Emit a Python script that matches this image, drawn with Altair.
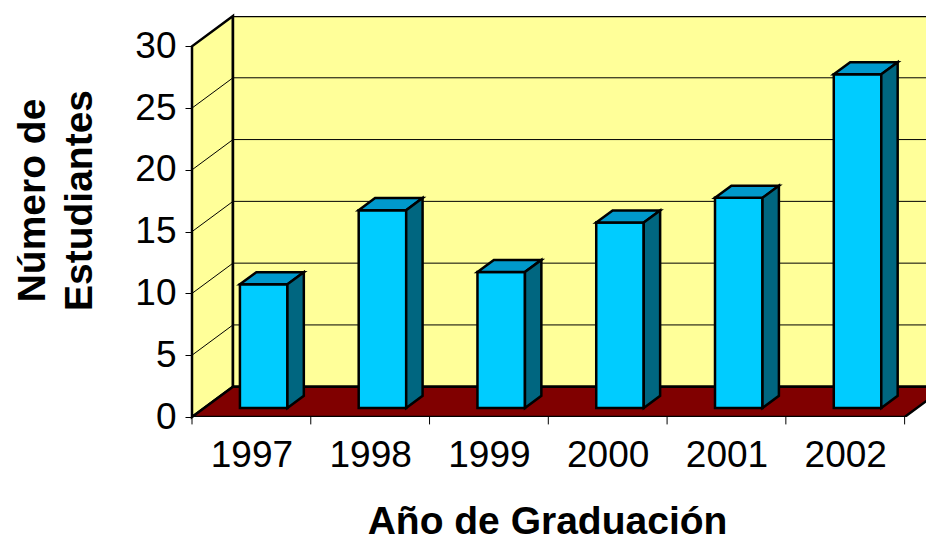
import altair as alt
import pandas as pd

# ---- data ----
years = ["1997", "1998", "1999", "2000", "2001", "2002"]
students = [10, 16, 11, 15, 17, 27]
y_ticks = [0, 5, 10, 15, 20, 25, 30]
y_max = 30

# ---- 3D styling constants ----
DX = 0.345   # depth of the box, in category units
DY = 2.45    # depth of the box, in value units
BAR_W = 0.4  # bar width (fraction of a category)
F0 = 0.3     # depth position of the bar front face
FD = 0.4     # bar depth (fraction of box depth)
X_VIEW = 6.18  # visible part of the category axis (picture is cut on the right)
n = len(years)

FONT = "Liberation Sans"
YELLOW = "#FFFF99"
FLOOR = "#800000"
FRONT = "#00CCFF"
TOP = "#0099CC"
SIDE = "#006680"

# ---- derived tables ----
left_wall = pd.DataFrame({"x": [0, DX], "y": [0, DY], "y2": [y_max, y_max + DY]})
back_wall = pd.DataFrame({"x": [DX], "x2": [n + DX], "y": [DY], "y2": [y_max + DY]})
grid_rows = []
for g in y_ticks[1:-1]:
    grid_rows += [
        {"g": g, "o": 0, "x": 0, "y": g},
        {"g": g, "o": 1, "x": DX, "y": g + DY},
        {"g": g, "o": 2, "x": n + DX, "y": g + DY},
    ]
grid = pd.DataFrame(grid_rows)
floor = pd.DataFrame({
    "x": [0, DX, n, n + DX],
    "y": [0, 0, 0, DY],
    "y2": [0, DY, DY, DY],
})

front_rows, top_rows, side_rows = [], [], []
du, dv = FD * DX, FD * DY
for i, (yr, h) in enumerate(zip(years, students)):
    a = i + (1 - BAR_W) / 2 + F0 * DX
    b0 = F0 * DY
    ht = h + b0
    front_rows.append({"year": yr, "x": a, "x2": a + BAR_W, "y": b0, "y2": ht})
    top_rows += [
        {"year": yr, "x": a, "y": ht, "y2": ht},
        {"year": yr, "x": a + du, "y": ht, "y2": ht + dv},
        {"year": yr, "x": a + BAR_W, "y": ht, "y2": ht + dv},
        {"year": yr, "x": a + BAR_W + du, "y": ht + dv, "y2": ht + dv},
    ]
    side_rows += [
        {"year": yr, "x": a + BAR_W, "y": b0, "y2": ht},
        {"year": yr, "x": a + BAR_W + du, "y": b0 + dv, "y2": ht + dv},
    ]
fronts = pd.DataFrame(front_rows)
tops = pd.DataFrame(top_rows)
sides = pd.DataFrame(side_rows)
xticks = pd.DataFrame({"x": list(range(n + 1)), "y": [0] * (n + 1), "y2": [-0.6] * (n + 1)})

# ---- scales & axes ----
xs = alt.Scale(domain=[0, X_VIEW], nice=False, zero=False)
ys = alt.Scale(domain=[0, y_max + DY], nice=False, zero=False)
label_expr = "[" + ",".join(f"'{y}'" for y in years) + "][floor(datum.value)]"
x_axis = alt.Axis(
    values=[i + 0.5 for i in range(n)], labelExpr=label_expr,
    domain=False, ticks=False, tickSize=0, grid=False,
    labelFont=FONT, labelFontSize=37, labelColor="black", labelPadding=20,
    labelFlush=False, labelOverlap=False,
    title="Año de Graduación", titleFont=FONT, titleFontSize=39, titleFontWeight="bold",
    titleColor="black", titleX=355, titleY=116, titleAlign="center", titleBaseline="alphabetic",
)
y_axis = alt.Axis(
    values=y_ticks, domain=False, grid=False, ticks=True, tickSize=7, tickWidth=1, tickColor="black",
    labelFont=FONT, labelFontSize=37, labelColor="black", labelPadding=9,
    labelFlush=False, labelOverlap=False,
    title=["Número de", "Estudiantes"], titleFont=FONT, titleFontSize=39, titleFontWeight="bold",
    titleColor="black", titleX=-148, titleY=184, titleAlign="center", titleBaseline="alphabetic",
    titleAngle=270, titleLineHeight=47,
)


def X(f="x"):
    return alt.X(f"{f}:Q", scale=xs, axis=x_axis)


def Y(f="y"):
    return alt.Y(f"{f}:Q", scale=ys, axis=y_axis, stack=None)


SW = 2.5

lw = alt.Chart(left_wall).mark_area(orient="vertical", fill=YELLOW, stroke="black", strokeWidth=SW, strokeJoin="miter").encode(
    x=X(), y=Y(), y2="y2:Q")
bw = alt.Chart(back_wall).mark_rect(fill=YELLOW, stroke="black", strokeWidth=SW, clip=True).encode(
    x=X(), x2="x2:Q", y=Y(), y2="y2:Q")
gl = alt.Chart(grid).mark_line(color="black", strokeWidth=1, clip=True).encode(
    x=X(), y=Y(), detail="g:N", order="o:Q")
fl = alt.Chart(floor).mark_area(orient="vertical", fill=FLOOR, stroke="black", strokeWidth=SW, strokeJoin="miter", clip=True).encode(
    x=X(), y=Y(), y2="y2:Q")
xt = alt.Chart(xticks).mark_rule(color="black", strokeWidth=1).encode(
    x=X(), y=Y(), y2="y2:Q")
bf = alt.Chart(fronts).mark_rect(fill=FRONT, stroke="black", strokeWidth=SW).encode(
    x=X(), x2="x2:Q", y=Y(), y2="y2:Q")
bt = alt.Chart(tops).mark_area(orient="vertical", fill=TOP, stroke="black", strokeWidth=SW, strokeJoin="miter").encode(
    x=X(), y=Y(), y2="y2:Q", detail="year:N")
bs = alt.Chart(sides).mark_area(orient="vertical", fill=SIDE, stroke="black", strokeWidth=SW, strokeJoin="miter").encode(
    x=X(), y=Y(), y2="y2:Q", detail="year:N")

chart = alt.layer(lw, bw, gl, fl, xt, bf, bt, bs).properties(
    width=734, height=401,
    autosize=alt.AutoSizeParams(type="none"),
    padding={"left": 184, "top": 8, "right": 0, "bottom": 130},
    background="white",
).configure_view(stroke=None)

chart.save("out.html", embed_options={"renderer": "svg", "actions": False})
